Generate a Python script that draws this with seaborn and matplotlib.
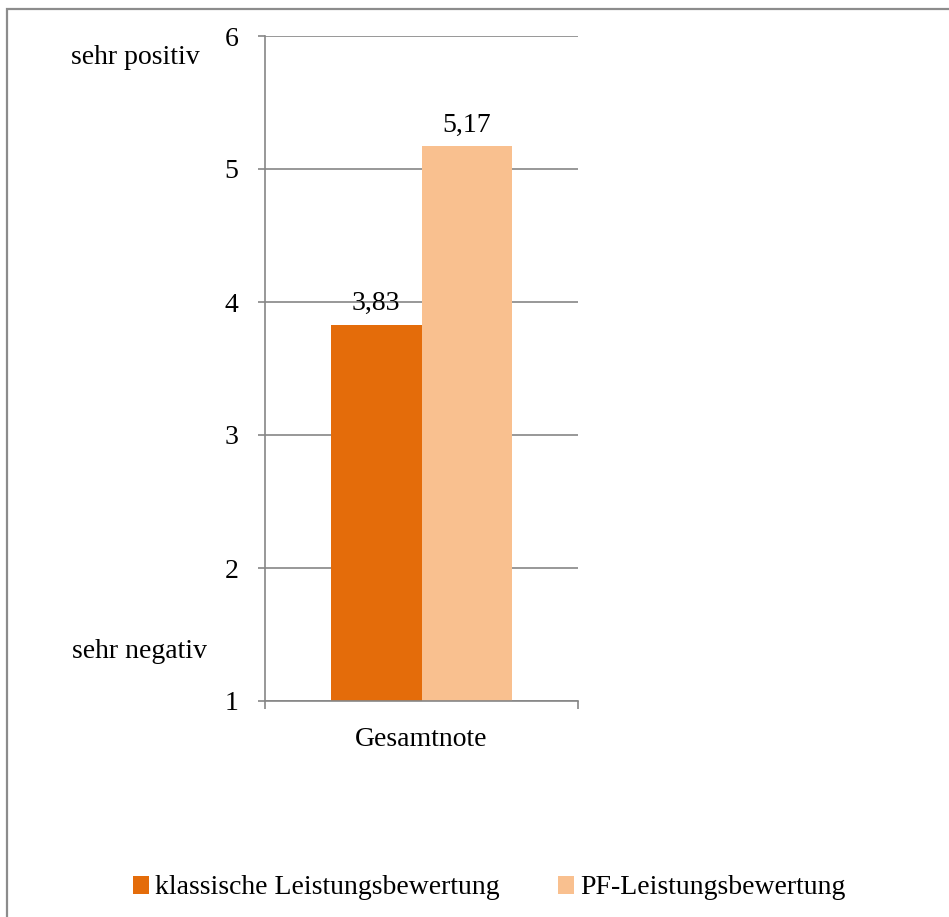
import pandas as pd
import matplotlib
matplotlib.use('Agg')
import matplotlib.pyplot as plt
import matplotlib.patches as mpatches
import seaborn as sns

# Datos
categorias = ['Gesamtnote']
series = ['klassische Leistungsbewertung', 'PF-Leistungsbewertung']
valores = [3.83, 5.17]
colores = ['#E46C0A', '#F9C08F']
ticks_y = [1, 2, 3, 4, 5, 6]

df = pd.DataFrame({'Kategorie': categorias * len(series),
                   'Bewertung': series,
                   'Wert': valores})

sns.set_theme(style='white')
plt.rcParams['font.family'] = ['Liberation Serif', 'DejaVu Serif']
plt.rcParams['font.size'] = 20
plt.rcParams['text.color'] = 'black'
plt.rcParams['xtick.color'] = 'black'
plt.rcParams['ytick.color'] = 'black'

fig = plt.figure(figsize=(9.49, 9.17), dpi=100)
ax = fig.add_axes([265/949, 1 - 701/917, 313/949, 665/917])

sns.barplot(data=df, x='Kategorie', y='Wert', hue='Bewertung',
            palette=colores, saturation=1, width=0.578, linewidth=0, ax=ax)

ax.set_ylim(1, 6)
ax.set_xlim(-0.5, 0.5)
ax.set_yticks(ticks_y)
ax.set_xlabel('')
ax.set_ylabel('')

# Grid y ejes
gris = '#868686'
ax.yaxis.grid(True, color=gris, linewidth=1.2)
ax.set_axisbelow(True)
for lado in ['top', 'right']:
    ax.spines[lado].set_visible(False)
for lado in ['left', 'bottom']:
    ax.spines[lado].set_color(gris)
    ax.spines[lado].set_linewidth(1.2)

ax.tick_params(axis='y', left=True, length=5, width=1.2, color=gris,
               pad=14, labelsize=20, labelcolor='black')
ax.tick_params(axis='x', which='major', bottom=True, length=0, pad=19,
               labelsize=20, labelcolor='black')
ax.set_xticks([-0.5, 0.5], minor=True)
ax.tick_params(axis='x', which='minor', bottom=True, length=6, width=1.2,
               color=gris)

# Etiquetas de valor
for c in ax.containers:
    ax.bar_label(c, labels=[f'{v:.2f}'.replace('.', ',') for v in c.datavalues],
                 padding=6, fontsize=20, color='black')

# Textos laterales
fig.text(135/949, 1 - 58/917, 'sehr positiv', ha='center', va='center', fontsize=20)
fig.text(140/949, 1 - 652/917, 'sehr negativ', ha='center', va='center', fontsize=20)

# Leyenda
handles, labels = ax.get_legend_handles_labels()
ax.get_legend().remove()
fig.legend(handles, labels, loc='center', bbox_to_anchor=(489/949, 1 - 888/917),
           ncol=2, frameon=False, fontsize=20, handlelength=0.6,
           handleheight=0.6, handletextpad=0.2, columnspacing=2.1)

# Marco
marco = mpatches.Rectangle((7/949, -0.2), 1.2, 1.2 - 9/917, transform=fig.transFigure,
                           fill=False, edgecolor='#8C8C8C', linewidth=1.6)
fig.patches.append(marco)

fig.savefig('out.png', dpi=100)
